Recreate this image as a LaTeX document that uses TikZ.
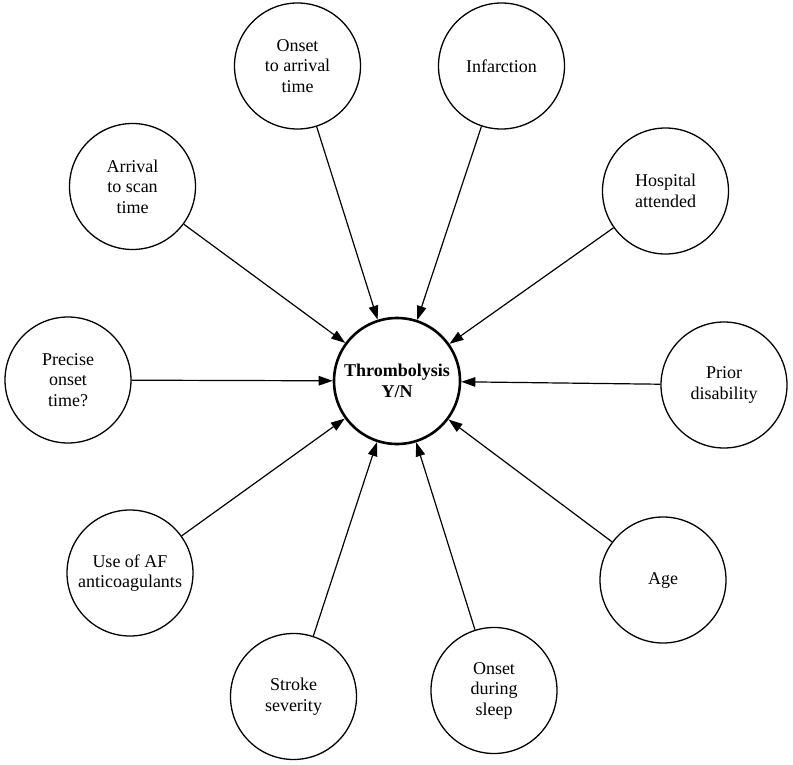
\documentclass[tikz,border=0pt]{standalone}
\usepackage{fontspec}
\setmainfont{Liberation Serif}
\usetikzlibrary{arrows.meta}
\begin{document}
\begin{tikzpicture}[x=1pt,y=-1pt,
  factor/.style={circle,draw,line width=1.3pt,minimum size=126pt,inner sep=0pt,
    align=center,font=\fontsize{18}{20.5}\selectfont},
  outcome/.style={factor,line width=2.6pt,font=\fontsize{18}{20.5}\selectfont\bfseries},
  link/.style={line width=1.2pt,-{Triangle[length=14pt,width=9.5pt]}}]
\useasboundingbox (0,0) rectangle (793,765);
\node[outcome] (tn) at (397,381) {Thrombolysis\\Y/N};
\node[factor] (ota) at (297.5,66) {Onset\\to arrival\\time};
\node[factor] (inf) at (501.5,66) {Infarction};
\node[factor] (ats) at (132.5,186.5) {Arrival\\to scan\\time};
\node[factor] (hos) at (665.5,191) {Hospital\\attended};
\node[factor] (pot) at (68,380) {Precise\\onset\\time?};
\node[factor] (pd) at (724,385) {Prior\\disability};
\node[factor] (af) at (130,573) {Use of AF\\anticoagulants};
\node[factor] (age) at (663,580) {Age};
\node[factor] (ss) at (293.5,696.5) {Stroke\\severity};
\node[factor] (ods) at (494,690.5) {Onset\\during\\sleep};
\foreach \src in {ota,inf,ats,hos,pot,pd,af,age,ss,ods}
  \draw[link] (\src) -- (tn);
\end{tikzpicture}
\end{document}
